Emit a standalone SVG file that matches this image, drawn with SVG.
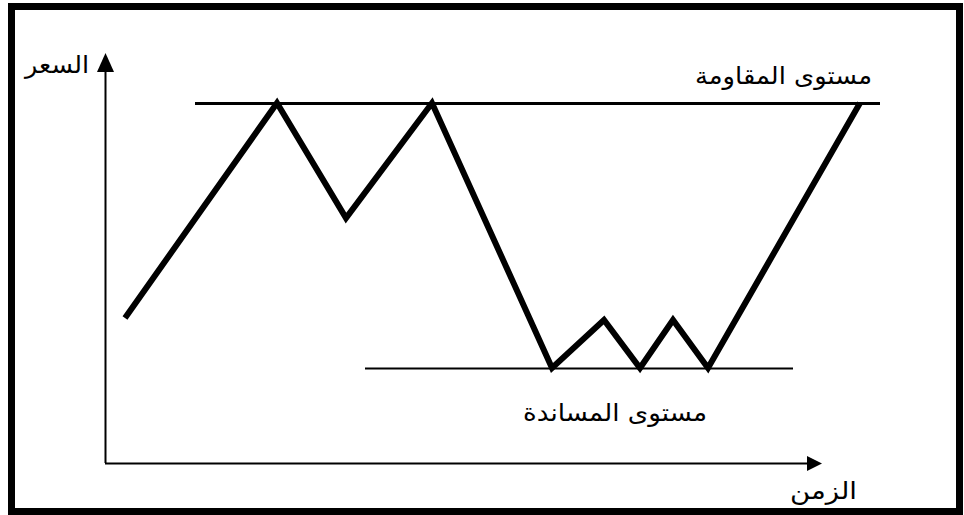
<svg xmlns="http://www.w3.org/2000/svg" width="964" height="515" viewBox="0 0 964 515">
<style>
text{font-family:"DejaVu Sans","Liberation Sans",sans-serif;font-size:24px;fill:#000}
.ax{stroke:#000;stroke-width:2;fill:none}
</style>
<rect x="0" y="0" width="964" height="515" fill="#fff"/>
<rect id="frame" x="11.5" y="6.5" width="948" height="505" fill="none" stroke="#000" stroke-width="7"/>
<g id="axes">
<line class="ax" x1="105.5" y1="463" x2="105.5" y2="72"/>
<path d="M97,72 L114,72 L105.5,53 Z" fill="#000"/>
<line class="ax" x1="105" y1="463.5" x2="807" y2="463.5"/>
<path d="M807,456 L807,471 L822,463.5 Z" fill="#000"/>
</g>
<g id="levels">
<line x1="195" y1="103.5" x2="880" y2="103.5" stroke="#000" stroke-width="3"/>
<line x1="365" y1="368.5" x2="793" y2="368.5" stroke="#000" stroke-width="2"/>
</g>
<g id="price">
<polyline points="125,318 277,103 346,218 432,103 552,368 604,320 640,368 673,320 708,368 860,103" fill="none" stroke="#000" stroke-width="6" stroke-linejoin="miter"/>
</g>
<g id="labels">
<text x="25" y="73" textLength="64" lengthAdjust="spacingAndGlyphs">السعر</text>
<text x="695" y="84" textLength="177" lengthAdjust="spacingAndGlyphs">مستوى المقاومة</text>
<text x="523" y="421" textLength="184" lengthAdjust="spacingAndGlyphs">مستوى المساندة</text>
<text x="790" y="499" textLength="67" lengthAdjust="spacingAndGlyphs">الزمن</text>
</g>
</svg>
